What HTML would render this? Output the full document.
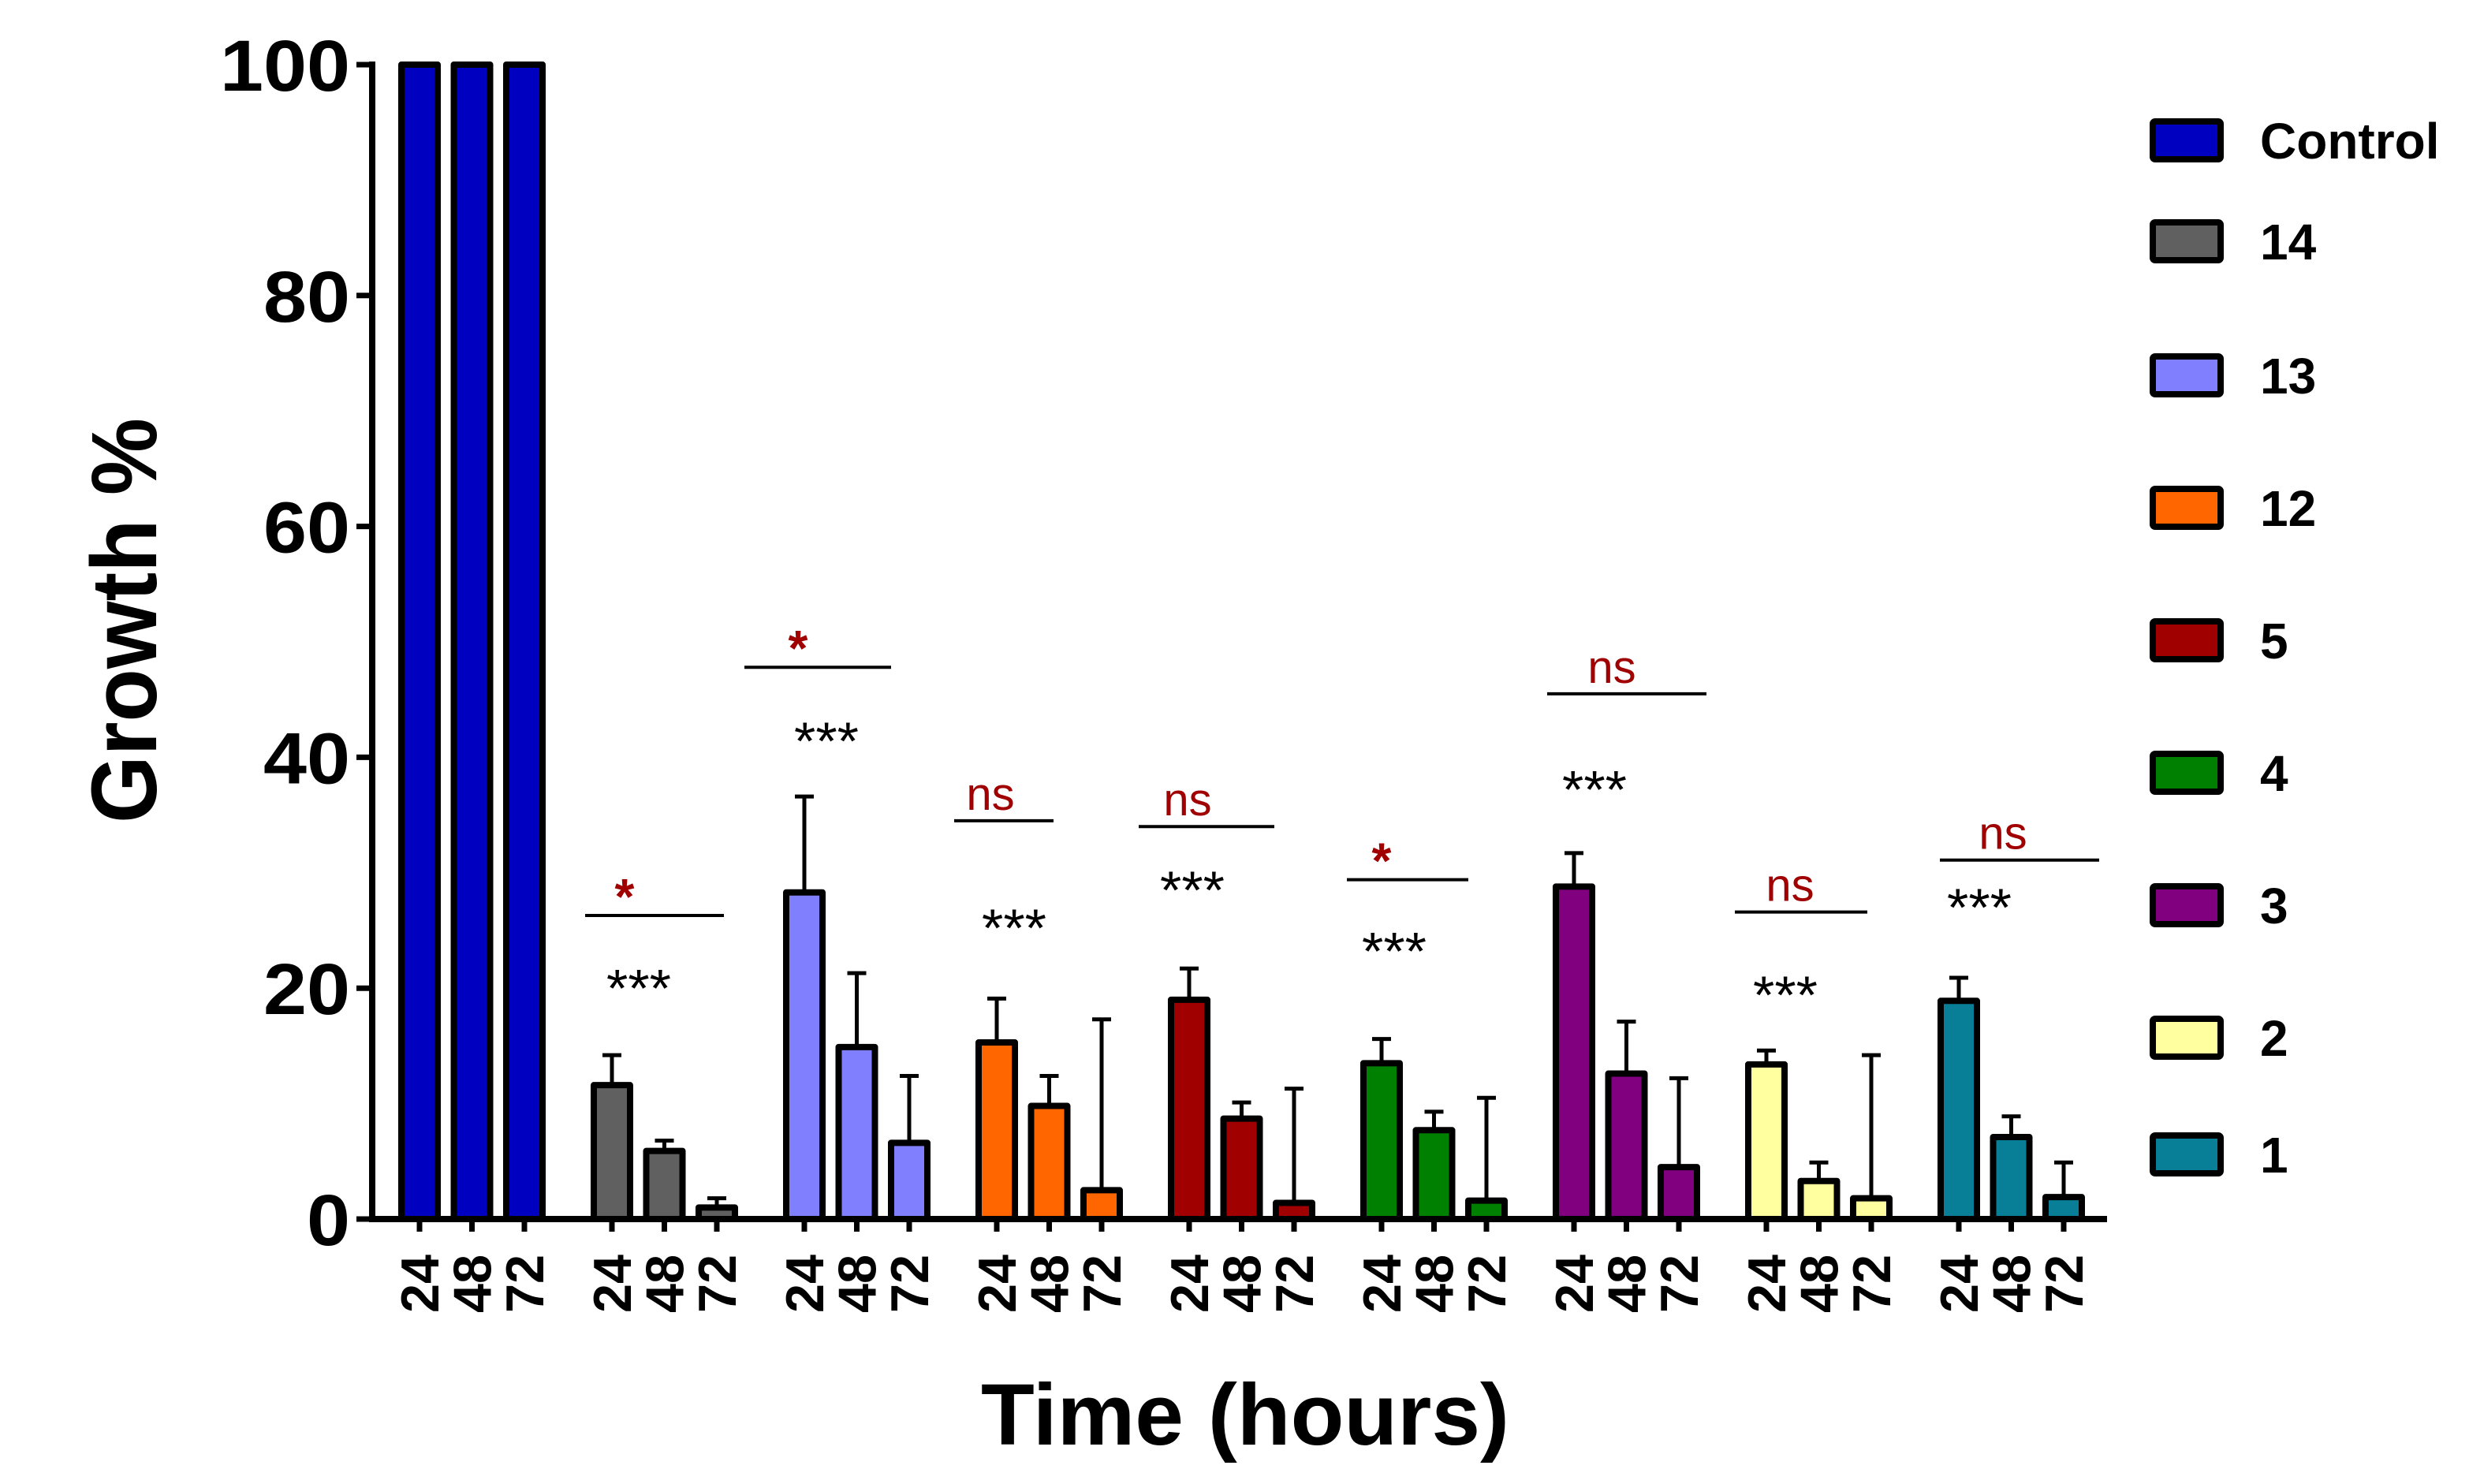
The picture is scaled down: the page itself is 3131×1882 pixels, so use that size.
<!DOCTYPE html>
<html><head><meta charset="utf-8"><style>
html,body{margin:0;padding:0;background:#fff;}
svg{display:block;font-family:"Liberation Sans",Arial,sans-serif;}
</style></head><body>
<svg id="chart" width="3131" height="1882" viewBox="0 0 3131 1882" xmlns="http://www.w3.org/2000/svg">
<g id="plot"></g>
<g id="legend"></g>
</svg>
<script>
// ---- data ----
const groups = ["Control","14","13","12","5","4","3","2","1"];
const timeLabels = ["24","48","72"];
const meanControl = [100,100,100];
const mean14 = [11.6,5.9,1.0];
const mean13 = [28.3,14.9,6.6];
const mean12 = [15.3,9.8,2.5];
const mean5 = [19.0,8.7,1.4];
const mean4 = [13.5,7.7,1.6];
const mean3 = [28.8,12.6,4.5];
const mean2 = [13.4,3.3,1.8];
const mean1 = [18.9,7.1,1.9];
const errControl = [0,0,0];
const err14 = [2.6,0.9,0.8];
const err13 = [8.3,6.4,5.8];
const err12 = [3.8,2.6,14.8];
const err5 = [2.7,1.4,9.9];
const err4 = [2.1,1.6,8.9];
const err3 = [2.9,4.5,7.7];
const err2 = [1.2,1.6,12.4];
const err1 = [2.0,1.8,3.0];
const sigLabels = ["","*","*","ns","ns","*","ns","ns","ns"];
const sigLevels = [0,26.3,47.8,34.5,34.0,29.4,45.5,26.6,31.1];
const starLevels = [0,20.2,41.6,25.4,28.7,23.4,37.4,19.6,27.2];
const yTicks = [0,20,40,60,80,100];

const means = [meanControl,mean14,mean13,mean12,mean5,mean4,mean3,mean2,mean1];
const errs = [errControl,err14,err13,err12,err5,err4,err3,err2,err1];
const colors = ["#0000C0","#606060","#8080FF","#FF6600","#A00000","#008000","#800080","#FFFFA0","#087F96"];
// annotation layout offsets (px, relative to first bar of group)
const sigStartOff = [0,-34,-76,-54,-64,-44,-34,-40,-24];
const sigEndOff = [0,142,110,72,108,110,168,128,178];
const sigLabelOff = [0,16,-8,-8,-2,0,48,30,56];
const starOff = [0,34,28,22,4,16,26,24,26];

// ---- scales ----
const NS="http://www.w3.org/2000/svg";
const y0=1546, y100=82;
function yScale(v){return y0-(v/100)*(y0-y100);}
const gx0=532, gStep=244, bStep=66.5;
function xScale(g,t){return gx0+g*gStep+t*bStep;}
const plot=document.getElementById('plot');
const legend=document.getElementById('legend');
function mk(tag,attrs,parent){const e=document.createElementNS(NS,tag);for(const k in attrs)e.setAttribute(k,attrs[k]);parent.appendChild(e);return e;}

const bw=46;
groups.forEach((g,gi)=>{
  means[gi].forEach((m,ti)=>{
    const cx=xScale(gi,ti);
    if(errs[gi][ti]>0){
      const ey=yScale(m+errs[gi][ti]);
      const l=mk('line',{x1:cx,x2:cx,y1:yScale(m),y2:ey,stroke:'#000','stroke-width':5},plot);
      
      
      const c=mk('line',{x1:cx-12,x2:cx+12,y1:ey,y2:ey,stroke:'#000','stroke-width':5},plot);
      
      
    }
    const top=yScale(m);
    const r=mk('rect',{x:cx-bw/2,y:top,width:bw,height:y0-top,fill:colors[gi],stroke:'#000','stroke-width':8,'stroke-linejoin':'round'},plot);
    
    
    const tk=mk('line',{x1:cx,x2:cx,y1:y0,y2:y0+16,stroke:'#000','stroke-width':7},plot);
    
    
    const tl=mk('text',{x:0,y:0,transform:`translate(${cx+24},1591) rotate(-90)`,'text-anchor':'end','font-size':68,'font-weight':'bold',textLength:74,lengthAdjust:'spacingAndGlyphs'},plot);
    tl.textContent=timeLabels[ti];
    
    
  });
  if(gi>0){
    const bx=xScale(gi,0);
    const x1=bx+sigStartOff[gi], x2=bx+sigEndOff[gi];
    const sy=yScale(sigLevels[gi]);
    const sl=mk('line',{x1:x1,x2:x2,y1:sy,y2:sy,stroke:'#000','stroke-width':4},plot);
    
    
    const isStar=sigLabels[gi]==='*';
    const st=mk('text',{x:bx+sigLabelOff[gi],y:sy-(isStar?2:14),'text-anchor':'middle','font-size':isStar?64:58,'font-weight':isStar?'bold':'normal',fill:'#A00000'},plot);
    st.textContent=sigLabels[gi];
    
    
    const as=mk('text',{x:bx+starOff[gi],y:yScale(starLevels[gi])+26,'text-anchor':'middle','font-size':68,fill:'#000',textLength:82,lengthAdjust:'spacingAndGlyphs'},plot);
    as.textContent='***';
    
    
  }
});

// axes
const ya=mk('line',{x1:472,x2:472,y1:78,y2:1550,stroke:'#000','stroke-width':8},plot);


const xa=mk('line',{x1:468,x2:2672,y1:y0,y2:y0,stroke:'#000','stroke-width':8},plot);


yTicks.forEach(v=>{
  const ty=yScale(v);
  const t=mk('line',{x1:452,x2:472,y1:ty,y2:ty,stroke:'#000','stroke-width':7},plot);
  
  
  const s=String(v);
  const lb=mk('text',{x:444,y:ty+33,'text-anchor':'end','font-size':92,'font-weight':'bold',textLength:s.length*55,lengthAdjust:'spacingAndGlyphs'},plot);
  lb.textContent=s;
  
  
});
const yt=mk('text',{x:0,y:0,transform:'translate(198,787) rotate(-90)','text-anchor':'middle','font-size':118,'font-weight':'bold',textLength:514,lengthAdjust:'spacingAndGlyphs'},plot);
yt.textContent='Growth %';


const xt=mk('text',{x:1579,y:1832,'text-anchor':'middle','font-size':110,'font-weight':'bold',textLength:670,lengthAdjust:'spacingAndGlyphs'},plot);
xt.textContent='Time (hours)';



// legend
const legY=[178,306,476,644,812,980,1148,1316,1464];
groups.forEach((g,gi)=>{
  const r=mk('rect',{x:2730,y:legY[gi]-24,width:86,height:48,fill:colors[gi],stroke:'#000','stroke-width':8,rx:3},legend);
  
  
  const t=mk('text',{x:2866,y:legY[gi]+23,'font-size':64,'font-weight':'bold'},legend);
  t.textContent=g;
  
  
});
</script>
</body></html>
